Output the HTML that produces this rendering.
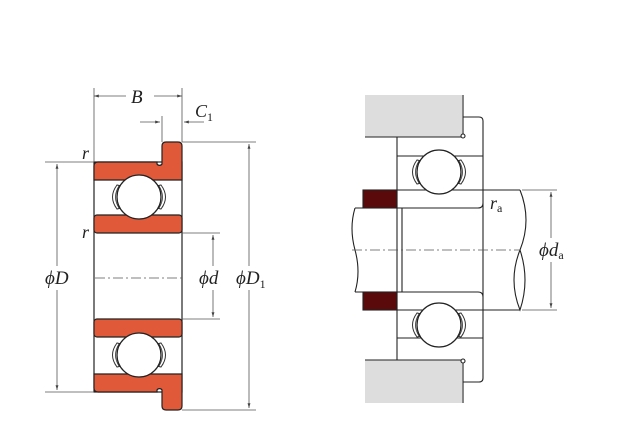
<!DOCTYPE html>
<html><head><meta charset="utf-8"><style>html,body{margin:0;padding:0;background:#fff}svg{display:block}
text{font-family:"Liberation Serif",serif;font-style:italic;fill:#222}</style></head>
<body>
<svg width="640" height="440" viewBox="0 0 640 440" xmlns="http://www.w3.org/2000/svg">
<defs>
<marker id="a" viewBox="0 0 10 10" refX="10" refY="5" markerWidth="6" markerHeight="6" orient="auto-start-reverse"><path d="M0,2 L10,5 L0,8z" fill="#444"/></marker>
<g id="ballL">
 <path d="M-22,-12 q-9,12 0,24 l4,-1 q-7,-11 0,-22z" fill="#fff" stroke="#333" stroke-width="1"/>
 <path d="M-20,-11 q-7,11 0,22" fill="none" stroke="#333" stroke-width="0.8"/>
 <path d="M22,-12 q9,12 0,24 l-4,-1 q7,-11 0,-22z" fill="#fff" stroke="#333" stroke-width="1"/>
 <path d="M20,-11 q7,11 0,22" fill="none" stroke="#333" stroke-width="0.8"/>
 <circle r="22" fill="#fff" stroke="#222" stroke-width="1.3"/>
</g>
</defs>
<g stroke="#222" stroke-width="1.2">
<!-- left bearing -->
<rect x="94" y="162" width="88" height="230" fill="#fff"/>
<path d="M94,180 V166 q0,-4 4,-4 H157 v2 a3,3 0 0 0 5,0 V146 q0,-4 4,-4 h12 q4,0 4,4 V180z" fill="#e05a3a"/>
<path d="M94,374 V388 q0,4 4,4 H157 v-2 a3,3 0 0 1 5,0 V406 q0,4 4,4 h12 q4,0 4,-4 V374z" fill="#e05a3a"/>
<rect x="94" y="215" width="88" height="18" rx="3" fill="#e05a3a"/>
<rect x="94" y="319" width="88" height="18" rx="3" fill="#e05a3a"/>
<use href="#ballL" x="139" y="197"/>
<use href="#ballL" x="139" y="355"/>
</g>
<g stroke="#555" stroke-width="0.8" fill="none">
<path d="M94,88 V162 M182,88 V142 M162,116 V142"/>
<line x1="94" y1="96" x2="182" y2="96" marker-start="url(#a)" marker-end="url(#a)"/>
<path d="M140,122 H160" marker-end="url(#a)"/><path d="M204,122 H184" marker-end="url(#a)"/>
<path d="M45,162 H94 M45,392 H94 M182,233 H220 M182,319 H220 M182,142 H256 M182,410 H256"/>
<line x1="57" y1="164" x2="57" y2="390" marker-start="url(#a)" marker-end="url(#a)"/>
<line x1="213" y1="235" x2="213" y2="317" marker-start="url(#a)" marker-end="url(#a)"/>
<line x1="249" y1="144" x2="249" y2="408" marker-start="url(#a)" marker-end="url(#a)"/>
<path d="M95,278 H182" stroke-dasharray="10,3,2,3"/>
</g>
<rect x="126" y="86" width="28" height="20" fill="#fff"/>
<text x="131" y="103" font-size="19">B</text>
<text x="195" y="117" font-size="18">C<tspan font-size="12" font-style="normal" dy="4">1</tspan></text>
<text x="82" y="159" font-size="18">r</text>
<text x="82" y="238" font-size="18">r</text>
<rect x="44" y="266" width="30" height="24" fill="#fff"/>
<text x="45" y="284" font-size="19">ϕD</text>
<rect x="198" y="266" width="30" height="24" fill="#fff"/>
<text x="199" y="284" font-size="19">ϕd</text>
<rect x="235" y="266" width="40" height="24" fill="#fff"/>
<text x="236" y="284" font-size="19">ϕD<tspan font-size="12" font-style="normal" dy="4">1</tspan></text>

<!-- right -->
<g stroke="#222" stroke-width="1.1">
<rect x="365" y="95" width="97" height="42" fill="#ddd" stroke="none"/>
<rect x="365" y="360" width="97" height="43" fill="#ddd" stroke="none"/>
<path d="M365,137 H462 M463,95 V134 M365,360 H462 M463,363 V403" fill="none"/>
<circle cx="463" cy="136" r="2" fill="#fff"/><circle cx="463" cy="361" r="2" fill="#fff"/>
<path d="M463,117 H479 q4,0 4,4 V378 q0,4 -4,4 H463 M397,137 V360 M397,156 H483 M397,190 H520 M397,208 H478 q5,0 5,-5 M397,292 H478 q5,0 5,5 M397,310 H520 M397,338 H483 M402,208 V292" fill="none"/>
<path d="M355,208 q-6,20 0,42 q6,22 0,42" fill="none"/>
<path d="M355,208 H402 M355,292 H402" fill="none"/>
<path d="M520,190 q12,30 0,60 q-12,30 0,60 q10,-30 0,-60" fill="none"/>
<rect x="363" y="190" width="34" height="18" fill="#5a0a0a"/>
<rect x="363" y="292" width="34" height="18" fill="#5a0a0a"/>
<use href="#ballL" x="439" y="172"/>
<use href="#ballL" x="439" y="325"/>
</g>
<g stroke="#555" stroke-width="0.8" fill="none">
<path d="M352,250 H520" stroke-dasharray="10,3,2,3"/>
<path d="M522,190 H557 M522,310 H557"/>
<line x1="551" y1="192" x2="551" y2="308" marker-start="url(#a)" marker-end="url(#a)"/>
</g>
<text x="490" y="209" font-size="18">r<tspan font-size="12" font-style="normal" dy="3">a</tspan></text>
<rect x="538" y="238" width="40" height="24" fill="#fff"/>
<text x="539" y="256" font-size="19">ϕd<tspan font-size="12" font-style="normal" dy="3">a</tspan></text>
</svg>
</body></html>
